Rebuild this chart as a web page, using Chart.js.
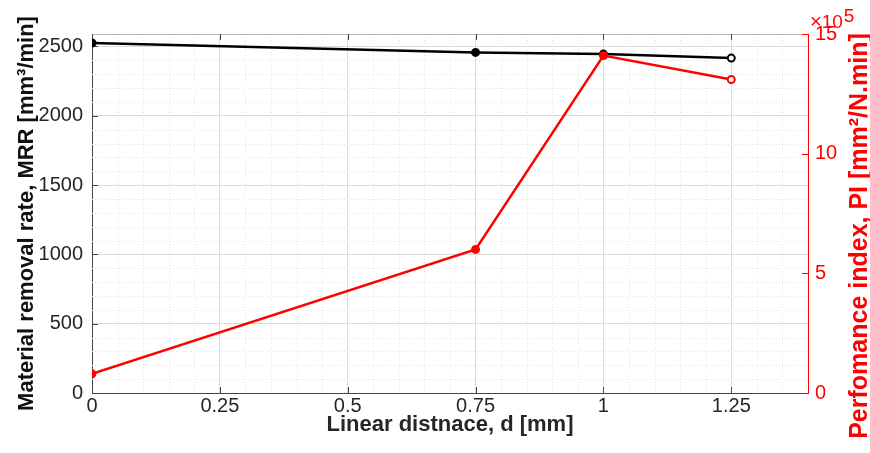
<!DOCTYPE html>
<html>
<head>
<meta charset="utf-8">
<script src="https://cdn.jsdelivr.net/npm/chart.js@4/dist/chart.umd.min.js"></script>
<style>
  html, body { margin: 0; padding: 0; background: #fff; }
  #wrap { width: 870px; height: 453px; position: relative; }
</style>
</head>
<body>
<div id="wrap"><canvas id="c"></canvas></div>
<script>
// Measured series: linear distance d [mm] against MRR and performance index
const distance = [0, 0.75, 1, 1.25];
const mrr = [2525, 2457, 2445, 2416];
const perfIndex = [0.8e5, 6.0e5, 14.1e5, 13.1e5];

// Axis ticks
const xTicks = [0, 0.25, 0.5, 0.75, 1, 1.25];
const mrrTicks = [0, 500, 1000, 1500, 2000, 2500];
const piTicks = [0, 5e5, 10e5, 15e5];

const FONT = '"Liberation Sans", Arial, Helvetica, sans-serif';
const RED = '#ff0000';
const INK = '#262626';

// Minor dotted grid, inward tick marks, top box edge, right-hand title and exponent
const framePlugin = {
  id: 'frame',
  beforeDatasetsDraw(chart) {
    const { ctx, chartArea: a, scales } = chart;
    const x = scales.x, yl = scales.y, yr = scales.y1;
    ctx.save();
    ctx.lineWidth = 1;
    ctx.strokeStyle = '#e4e4e4';
    ctx.setLineDash([1, 2]);
    ctx.beginPath();
    for (let i = 1; i * 0.05 < x.max - 1e-9; i++) {
      if (i % 5 === 0) continue;
      const px = Math.round(x.getPixelForValue(i * 0.05)) + 0.5;
      ctx.moveTo(px, a.top); ctx.lineTo(px, a.bottom);
    }
    for (let v = 100; v < yl.max; v += 100) {
      if (v % 500 === 0) continue;
      const py = Math.round(yl.getPixelForValue(v)) + 0.5;
      ctx.moveTo(a.left, py); ctx.lineTo(a.right, py);
    }
    ctx.stroke();
    ctx.setLineDash([]);

    // top edge of the box
    ctx.strokeStyle = '#b4b4b4';
    ctx.beginPath();
    ctx.moveTo(a.left, a.top + 0.5); ctx.lineTo(a.right, a.top + 0.5);
    ctx.stroke();

    const T = 6;
    ctx.strokeStyle = '#444';
    ctx.beginPath();
    xTicks.forEach(v => {
      const px = Math.round(x.getPixelForValue(v)) + 0.5;
      ctx.moveTo(px, a.bottom); ctx.lineTo(px, a.bottom - T);
      ctx.moveTo(px, a.top); ctx.lineTo(px, a.top + T);
    });
    mrrTicks.forEach(v => {
      const py = Math.round(yl.getPixelForValue(v)) + 0.5;
      ctx.moveTo(a.left, py); ctx.lineTo(a.left + T, py);
    });
    ctx.stroke();

    ctx.strokeStyle = RED;
    ctx.beginPath();
    piTicks.forEach(v => {
      const py = Math.round(yr.getPixelForValue(v)) + 0.5;
      ctx.moveTo(a.right, py); ctx.lineTo(a.right - T, py);
    });
    ctx.stroke();
    ctx.restore();
  },
  afterDraw(chart) {
    const { ctx, chartArea: a } = chart;
    ctx.save();
    ctx.fillStyle = RED;

    // exponent marker above the right axis
    ctx.textBaseline = 'alphabetic';
    ctx.textAlign = 'left';
    ctx.font = '20px ' + FONT;
    let cx = a.right + 2;
    ctx.fillText('\u00d7', cx, 28);
    cx += ctx.measureText('\u00d7').width;
    ctx.font = '19px ' + FONT;
    ctx.fillText('10', cx, 28);
    cx += ctx.measureText('10').width;
    ctx.fillText('5', cx + 1, 22);

    // right axis title, reading bottom to top
    ctx.translate(867, 236);
    ctx.rotate(-Math.PI / 2);
    ctx.font = 'bold 25px ' + FONT;
    ctx.textAlign = 'center';
    ctx.textBaseline = 'alphabetic';
    ctx.fillText('Perfomance index, PI [mm\u00b2/N.min]', 0, 0);
    ctx.restore();
  }
};

new Chart(document.getElementById('c'), {
  type: 'line',
  data: {
    datasets: [
      {
        label: 'MRR',
        data: distance.map((d, i) => ({ x: d, y: mrr[i] })),
        yAxisID: 'y',
        order: 2,
        borderColor: '#000',
        borderWidth: 2.5,
        tension: 0,
        pointRadius: 3.5,
        pointBorderWidth: 2,
        pointBorderColor: '#000',
        pointBackgroundColor: ['#000', '#000', '#000', '#fff']
      },
      {
        label: 'PI',
        data: distance.map((d, i) => ({ x: d, y: perfIndex[i] })),
        yAxisID: 'y1',
        order: 1,
        borderColor: RED,
        borderWidth: 2.5,
        tension: 0,
        pointRadius: 3.5,
        pointBorderWidth: 2,
        pointBorderColor: RED,
        pointBackgroundColor: [RED, RED, RED, '#fff']
      }
    ]
  },
  options: {
    responsive: true,
    maintainAspectRatio: false,
    animation: false,
    events: [],
    layout: { padding: { top: 34, left: 0, right: 0, bottom: 0 } },
    plugins: { legend: { display: false }, tooltip: { enabled: false } },
    scales: {
      x: {
        type: 'linear',
        min: 0,
        max: 1.4,
        afterBuildTicks: s => { s.ticks = xTicks.map(v => ({ value: v })); },
        afterFit: s => { s.height = 60; },
        grid: { color: '#dcdcdc', drawTicks: false },
        border: { color: '#444', width: 1 },
        ticks: {
          padding: 1,
          color: INK,
          font: { family: FONT, size: 20 },
          maxRotation: 0,
          autoSkip: false,
          callback: v => String(v)
        },
        title: {
          display: true,
          text: 'Linear distnace, d [mm]',
          color: INK,
          font: { family: FONT, size: 22, weight: 'bold' },
          padding: { top: 0, bottom: 15 }
        }
      },
      y: {
        type: 'linear',
        position: 'left',
        min: 0,
        max: 2590,
        afterBuildTicks: s => { s.ticks = mrrTicks.map(v => ({ value: v })); },
        afterFit: s => { s.width = 92; },
        grid: { color: '#dcdcdc', drawTicks: false },
        border: { color: '#444', width: 1 },
        ticks: {
          padding: 9,
          color: INK,
          font: { family: FONT, size: 20 },
          callback: v => String(v)
        },
        title: {
          display: true,
          text: 'Material removal rate, MRR [mm\u00b3/min]',
          color: '#111',
          font: { family: FONT, size: 22, weight: 'bold' },
          padding: { top: 14, bottom: 0 }
        }
      },
      y1: {
        type: 'linear',
        position: 'right',
        min: 0,
        max: 15e5,
        afterBuildTicks: s => { s.ticks = piTicks.map(v => ({ value: v })); },
        afterFit: s => { s.width = 62; },
        grid: { drawOnChartArea: false, drawTicks: false },
        border: { color: RED, width: 1 },
        ticks: {
          padding: 7,
          color: RED,
          font: { family: FONT, size: 20 },
          callback: v => String(v / 1e5)
        }
      }
    }
  },
  plugins: [framePlugin]
});
</script>
</body>
</html>
